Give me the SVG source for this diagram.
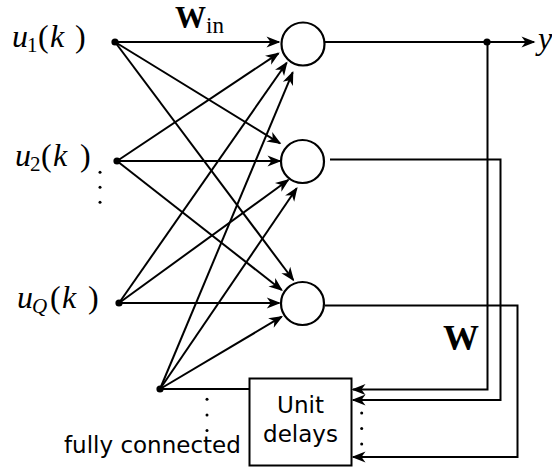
<svg xmlns="http://www.w3.org/2000/svg" width="552" height="467" viewBox="0 0 552 467">
<style>
.ln{fill:none;stroke:#000;stroke-width:2}
.ar{fill:none;stroke:#000;stroke-width:2;marker-end:url(#ah)}
.nd{fill:#fff;stroke:#000;stroke-width:2.2}
.dot{fill:#000}
.math{font-family:"Liberation Serif","Times New Roman",serif;fill:#000}
.it{font-style:italic}
.bf{font-weight:bold}
.sans{font-family:"DejaVu Sans",sans-serif;font-size:23px;fill:#000}
</style>
<defs>
<marker id="ah" markerUnits="userSpaceOnUse" markerWidth="18" markerHeight="14" viewBox="-14 -7 17 14" refX="0" refY="0" orient="auto" overflow="visible">
<path d="M1.5,0 L-12.5,-5.5 L-8.5,0 L-12.5,5.5 Z" fill="#000"/>
</marker>
</defs>

<g id="connectors">
<line class="ar" x1="115" y1="42" x2="279" y2="42"/>
<line class="ar" x1="115" y1="42" x2="280" y2="143.3"/>
<line class="ar" x1="115" y1="42" x2="293.3" y2="280"/>
<line class="ar" x1="117" y1="161" x2="278.5" y2="53.3"/>
<line class="ar" x1="117" y1="161" x2="280" y2="161"/>
<line class="ar" x1="117" y1="161" x2="281.7" y2="290"/>
<line class="ar" x1="119" y1="303" x2="286.7" y2="62.7"/>
<line class="ar" x1="119" y1="303" x2="288.3" y2="180"/>
<line class="ar" x1="119" y1="303" x2="279.3" y2="303"/>
<line class="ar" x1="160" y1="389" x2="292.7" y2="72.3"/>
<line class="ar" x1="160" y1="389" x2="296.7" y2="188.3"/>
<line class="ar" x1="160" y1="389" x2="281.7" y2="316.7"/>
<line class="ln" x1="160" y1="389" x2="249" y2="389"/>
<line class="ln" x1="325" y1="42" x2="487" y2="42"/>
<line class="ar" x1="487" y1="42" x2="534" y2="42"/>
<polyline class="ar" points="487.5,42 487.5,389.5 353,389.5"/>
<polyline class="ar" points="330,159.5 500.5,159.5 500.5,400 353,400"/>
<polyline class="ar" points="325,305.5 517.5,305.5 517.5,457 353,457"/>
</g>

<g id="input-u1">
<circle class="dot" cx="115" cy="42" r="3.6"/>
<text class="math" style="font-size:32px" y="47"><tspan class="it" x="12">u</tspan><tspan x="27" y="51.5" style="font-size:21px">1</tspan><tspan x="38" y="47">(</tspan><tspan class="it" x="50">k</tspan><tspan x="75">)</tspan></text>
</g>
<g id="input-u2">
<circle class="dot" cx="117" cy="161" r="3.6"/>
<text class="math" style="font-size:32px" y="166"><tspan class="it" x="15">u</tspan><tspan x="30" y="170.5" style="font-size:21px">2</tspan><tspan x="41" y="166">(</tspan><tspan class="it" x="53">k</tspan><tspan x="80">)</tspan></text>
<circle class="dot" cx="100" cy="172.3" r="1.5"/>
<circle class="dot" cx="100" cy="187.3" r="1.5"/>
<circle class="dot" cx="100" cy="202.3" r="1.5"/>
</g>
<g id="input-uQ">
<circle class="dot" cx="119" cy="303" r="3.6"/>
<text class="math" style="font-size:32px" y="308"><tspan class="it" x="17">u</tspan><tspan class="it" x="32" y="313" style="font-size:21px">Q</tspan><tspan x="50" y="308">(</tspan><tspan class="it" x="62">k</tspan><tspan x="88">)</tspan></text>
</g>
<g id="feedback-node">
<circle class="dot" cx="160" cy="389" r="3.6"/>
<circle class="dot" cx="207" cy="399.3" r="1.5"/>
<circle class="dot" cx="207" cy="415" r="1.5"/>
<circle class="dot" cx="207" cy="430.5" r="1.5"/>
<text class="sans" x="64" y="453">fully connected</text>
</g>

<g id="neuron-1"><circle class="nd" cx="303" cy="44" r="21.5"/></g>
<g id="neuron-2"><circle class="nd" cx="302.5" cy="161.5" r="21.5"/></g>
<g id="neuron-3"><circle class="nd" cx="302.5" cy="303.5" r="21.5"/></g>

<g id="output-y">
<circle class="dot" cx="487" cy="42" r="3.6"/>
<text class="math it" style="font-size:32px" x="538" y="49">y</text>
</g>

<g id="unit-delays">
<rect x="249.5" y="378.5" width="102" height="87" fill="#fff" stroke="#000" stroke-width="2"/>
<text class="sans" x="300.5" y="413" text-anchor="middle">Unit</text>
<text class="sans" x="300.5" y="442" text-anchor="middle">delays</text>
<circle class="dot" cx="361.7" cy="413" r="1.5"/>
<circle class="dot" cx="361.7" cy="428.5" r="1.5"/>
<circle class="dot" cx="361.7" cy="444" r="1.5"/>
</g>

<g id="labels">
<text class="math bf" style="font-size:31px" x="175" y="28">W</text>
<text class="math" style="font-size:23px" x="206" y="33">in</text>
<text class="math bf" style="font-size:36px" x="443" y="350">W</text>
</g>
</svg>
